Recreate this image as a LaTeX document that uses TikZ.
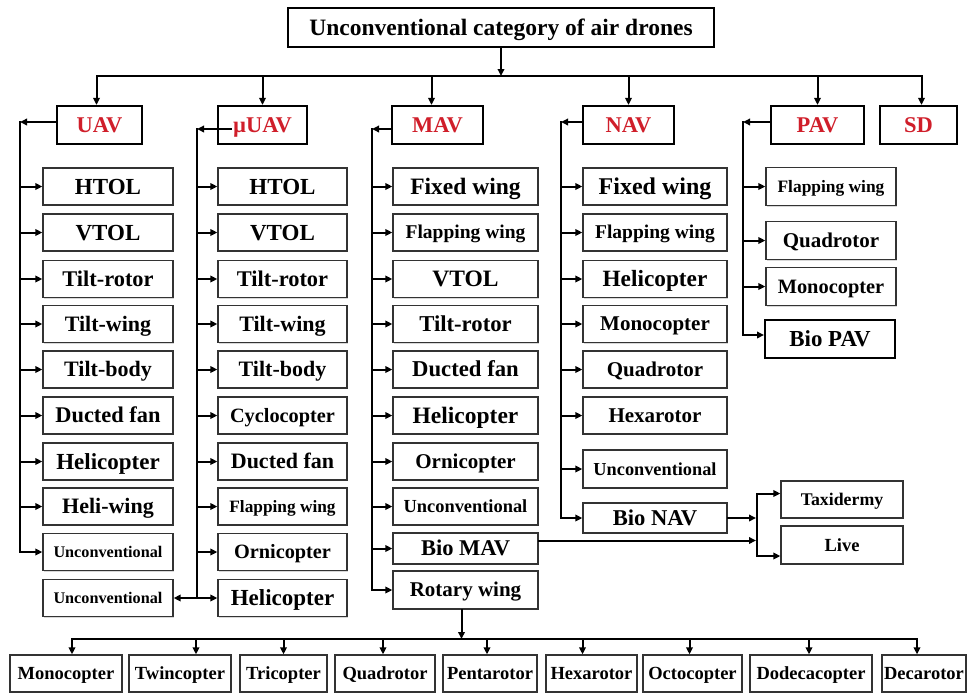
\documentclass[tikz,border=0pt]{standalone}
\usepackage{fontspec}
\setmainfont{Liberation Serif}
\usetikzlibrary{arrows.meta,shadows,calc}
\definecolor{catred}{RGB}{208,30,42}
\begin{document}
\begin{tikzpicture}[x=1pt,y=-1pt,
  tsz/.style={font=\fontsize{#1}{#1}\selectfont\bfseries, text height={0.66*#1pt}, text depth=0pt},
  leaf/.style={draw=black!80, line width=1.3pt, fill=white, inner sep=0pt,
    drop shadow={shadow xshift=1.2pt,shadow yshift=-1.2pt,fill=black!30}},
  cat/.style={draw=black, line width=2.2pt, fill=white, inner sep=0pt, text=catred,
    tsz=22.5, minimum height=38pt},
  conn/.style={line width=2pt, line cap=rect},
  arr/.style={conn, -{Triangle[length=7pt,width=6.5pt]}},
]
\useasboundingbox (0,0) rectangle (968,694);

% title
\node[draw=black, line width=2.2pt, fill=white, inner sep=0pt, tsz=23.5,
  minimum width=426pt, minimum height=39pt] (top) at (501,27.5)
  {Unconventional category of air drones};

% categories
\node[cat, minimum width=85pt] (uav)  at (99.5,125)  {UAV};
\node[cat, minimum width=89pt] (muav) at (262.5,125) {µUAV};
\node[cat, minimum width=91pt] (mav)  at (437.5,125) {MAV};
\node[cat, minimum width=91pt] (nav)  at (628.5,125) {NAV};
\node[cat, minimum width=93pt] (pav)  at (817.5,125) {PAV};
\node[cat, minimum width=77pt] (sd)   at (918.5,125) {SD};

% UAV column
\foreach \n/\y/\s/\t in {u1/186.5/23/HTOL, u2/232.5/23/VTOL, u3/279/22.4/Tilt-rotor,
  u4/324/22/Tilt-wing, u5/369.5/22/Tilt-body, u6/415.5/22.4/Ducted fan,
  u7/461.5/23/Helicopter, u8/506.5/22/Heli-wing, u9/552/16.2/Unconventional,
  u10/598/16.2/Unconventional}
  \node[leaf, tsz=\s, minimum width=130pt, minimum height=37pt] (\n) at (108,\y) {\t};

% muUAV column
\foreach \n/\y/\s/\t in {m1/186.5/23/HTOL, m2/232.5/23/VTOL, m3/279/22.4/Tilt-rotor,
  m4/324/22/Tilt-wing, m5/369.5/22/Tilt-body, m6/415.5/20.3/Cyclocopter,
  m7/461.5/22/Ducted fan, m8/506.5/17.3/Flapping wing, m9/552/20.3/Ornicopter,
  m10/598/23/Helicopter}
  \node[leaf, tsz=\s, minimum width=129pt, minimum height=37pt] (\n) at (282.5,\y) {\t};

% MAV column
\foreach \n/\y/\h/\s/\t in {a1/186.5/37/23.5/Fixed wing, a2/232.5/37/19.5/Flapping wing,
  a3/279/37/23.5/VTOL, a4/324/37/22.7/Tilt-rotor, a5/369.5/37/22.7/Ducted fan,
  a6/415.5/37/23.5/Helicopter, a7/461.5/37/21/Ornicopter, a8/506.5/37/18.4/Unconventional,
  a9/548.5/31/22.5/Bio MAV, a10/590/38/21/Rotary wing}
  \node[leaf, tsz=\s, minimum width=145pt, minimum height=\h pt] (\n) at (465.5,\y) {\t};

% NAV column
\foreach \n/\y/\h/\s/\t in {n1/186.5/37/24/Fixed wing, n2/232.5/37/19.5/Flapping wing,
  n3/279/37/23.3/Helicopter, n4/324/37/21/Monocopter, n5/369.5/37/21/Quadrotor,
  n6/415.5/37/21/Hexarotor, n7/469/38/18.3/Unconventional, n8/518/30/22.6/Bio NAV}
  \node[leaf, tsz=\s, minimum width=144pt, minimum height=\h pt] (\n) at (655,\y) {\t};

% PAV column
\foreach \n/\y/\s/\t in {p1/186.5/17.4/Flapping wing, p2/240.5/21/Quadrotor,
  p3/286.5/20.4/Monocopter}
  \node[leaf, tsz=\s, minimum width=130pt, minimum height=38pt] (\n) at (831,\y) {\t};
\node[leaf, draw=black, line width=2pt, tsz=22.9, minimum width=130pt,
  minimum height=38pt] (p4) at (830,339) {Bio PAV};

% Bio NAV children
\node[leaf, tsz=17.8, minimum width=122pt, minimum height=37pt] (tax) at (842,499.5) {Taxidermy};
\node[leaf, tsz=18.5, minimum width=122pt, minimum height=38pt] (live) at (842,545) {Live};

% bottom row
\foreach \n/\x/\w/\t in {b1/66/112/Monocopter, b2/180/102/Twincopter, b3/283.5/87/Tricopter,
  b4/385/100/Quadrotor, b5/490/94/Pentarotor, b6/591.5/91/Hexarotor,
  b7/692.5/99/Octocopter, b8/811/122/Dodecacopter, b9/924/84/Decarotor}
  \node[leaf, tsz=18.5, minimum width=\w pt, minimum height=37pt] (\n) at (\x,673.5) {\t};

% ---- connectors ----
\coordinate (bus) at (0,76);
\draw[arr] (top.south) -- (top.south |- bus);
\draw[conn] ([xshift=-3pt]uav.north |- bus) -- ([xshift=3pt]sd.north |- bus);
\draw[arr] ([xshift=-3pt]uav.north |- bus) -- ([xshift=-3pt]uav.north);
\draw[arr] ([xshift=-6pt]mav.north |- bus) -- ([xshift=-6pt]mav.north);
\draw[arr] ([xshift=3pt]sd.north |- bus) -- ([xshift=3pt]sd.north);
\foreach \n in {muav,nav,pav}
  \draw[arr] (\n.north |- bus) -- (\n.north);

% UAV
\coordinate (ux) at (20,0);
\draw[arr] ([yshift=3pt]uav.west) -- ([yshift=3pt]uav.west -| ux);
\draw[conn] ([yshift=3pt]uav.west -| ux) -- (u9.west -| ux);
\foreach \i in {1,...,9}
  \draw[arr] (u\i.west -| ux) -- (u\i.west);

% muUAV
\coordinate (mx) at (197,0);
\draw[arr] ([xshift=14pt,yshift=-4pt]muav.west) -- ([yshift=-4pt]muav.west -| mx);
\draw[conn] ([yshift=-4pt]muav.west -| mx) -- (m10.west -| mx);
\foreach \i in {1,...,10}
  \draw[arr] (m\i.west -| mx) -- (m\i.west);
\draw[arr] (m10.west -| mx) -- (u10.east);

% MAV
\coordinate (ax) at (372,0);
\draw[arr] ([yshift=-4pt]mav.west) -- ([yshift=-4pt]mav.west -| ax);
\draw[conn] ([yshift=-4pt]mav.west -| ax) -- (a10.west -| ax);
\foreach \i in {1,...,10}
  \draw[arr] (a\i.west -| ax) -- (a\i.west);

% NAV
\coordinate (nx) at (561,0);
\draw[arr] ([yshift=3pt]nav.west) -- ([yshift=3pt]nav.west -| nx);
\draw[conn] ([yshift=3pt]nav.west -| nx) -- (n8.west -| nx);
\foreach \i in {1,...,8}
  \draw[arr] (n\i.west -| nx) -- (n\i.west);

% PAV
\coordinate (px) at (743,0);
\draw[arr] ([yshift=3pt]pav.west) -- ([yshift=3pt]pav.west -| px);
\draw[conn] ([yshift=3pt]pav.west -| px) -- ([yshift=4pt]p4.west -| px);
\foreach \i in {1,2,3}
  \draw[arr] (p\i.west -| px) -- (p\i.west);
\draw[arr] ([yshift=4pt]p4.west -| px) -- ([yshift=4pt]p4.west);

% Bio NAV / Bio MAV -> Taxidermy, Live
\coordinate (tx) at (757,0);
\draw[conn] ([yshift=6pt]tax.west -| tx) -- ([yshift=-11pt]live.west -| tx);
\draw[arr] ([yshift=6pt]tax.west -| tx) -- ([yshift=6pt]tax.west);
\draw[arr] ([yshift=-11pt]live.west -| tx) -- ([yshift=-11pt]live.west);
\draw[arr] (n8.east) -- ([xshift=-1pt]n8.east -| tx);
\draw[arr] ([yshift=8pt]a9.east) -- ([xshift=-1pt,yshift=8pt]a9.east -| tx);

% Rotary wing -> bottom row
\coordinate (bbus) at (0,639);
\draw[arr] ([xshift=-4pt]a10.south) -- ([xshift=-4pt]a10.south |- bbus);
\draw[conn] ([xshift=6pt]b1.north |- bbus) -- ([xshift=-7pt]b9.north |- bbus);
\foreach \n/\dx in {b1/6, b2/16, b3/0, b4/-2, b5/-3, b6/-9, b7/-3, b8/-2, b9/-7}
  \draw[arr] ([xshift=\dx pt]\n.north |- bbus) -- ([xshift=\dx pt]\n.north);
\end{tikzpicture}
\end{document}
